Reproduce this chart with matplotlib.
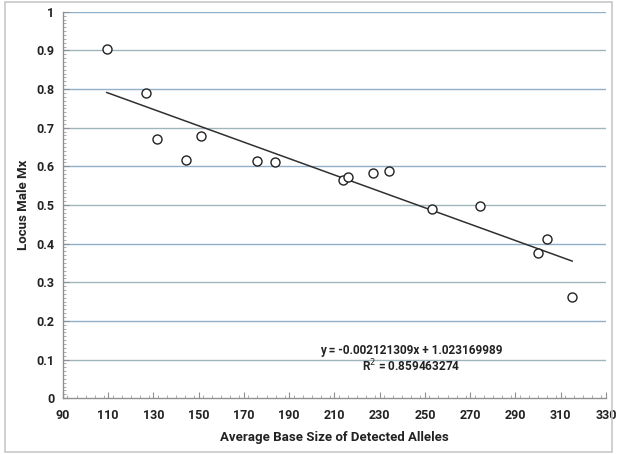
import matplotlib
matplotlib.use("Agg")
import matplotlib.pyplot as plt
from matplotlib.ticker import MultipleLocator
from matplotlib.patches import Rectangle
import numpy as np

base_size = [109.4, 126.8, 131.7, 144.4, 151.1, 176.0, 183.6, 213.6, 216.1,
             227.0, 234.1, 253.1, 274.2, 299.8, 303.9, 315.1]
male_mx = [0.904, 0.790, 0.672, 0.617, 0.678, 0.614, 0.611, 0.564, 0.573,
           0.583, 0.589, 0.490, 0.498, 0.375, 0.412, 0.263]
slope = -0.002121309
intercept = 1.023169989
r_squared = 0.859463274
x_ticks = list(range(90, 331, 20))
y_ticks = [0, 0.1, 0.2, 0.3, 0.4, 0.5, 0.6, 0.7, 0.8, 0.9, 1]
y_tick_labels = ["0", "0.1", "0.2", "0.3", "0.4", "0.5", "0.6", "0.7", "0.8", "0.9", "1"]

plt.rcParams['font.family'] = ['Roboto', 'DejaVu Sans']

fig = plt.figure(figsize=(6.17, 4.54), dpi=100)
ax = fig.add_axes([0.102, 0.123, 0.880, 0.851])

fig.patches.append(Rectangle((0.008, 0.004), 0.984, 0.992, transform=fig.transFigure,
                             fill=False, edgecolor='#c8c8c8', linewidth=1.2))

grid_colors = ['#a0b4bc', '#8fb0c8']
for i, yv in enumerate(y_ticks[1:]):
    ax.axhline(yv, color=grid_colors[i % 2], linewidth=1.0, zorder=0)

xfit = np.array([min(base_size), max(base_size)])
ax.plot(xfit, slope * xfit + intercept, color='#303030', linewidth=1.1, zorder=2)

ax.plot(base_size, male_mx, linestyle='none', marker='o', markersize=6.5,
        markerfacecolor='white', markeredgecolor='#222222', markeredgewidth=1.0, zorder=3)

ax.set_xlim(90, 330)
ax.set_ylim(0, 1)
ax.set_xticks(x_ticks)
ax.set_yticks(y_ticks)
ax.set_yticklabels(y_tick_labels)
ax.xaxis.set_minor_locator(MultipleLocator(4))
ax.yaxis.set_minor_locator(MultipleLocator(0.01))

for s in ['top', 'right']:
    ax.spines[s].set_visible(False)
for s in ['left', 'bottom']:
    ax.spines[s].set_color('#909090')
    ax.spines[s].set_linewidth(1.0)

ax.tick_params(axis='both', which='major', length=4, color='#909090', direction='in',
               labelsize=9, labelcolor='#222222')
ax.tick_params(axis='both', which='minor', length=2, color='#a0a0a0', direction='in')
ax.tick_params(axis='x', which='major', pad=8)
ax.tick_params(axis='y', which='major', pad=6)
for lbl in ax.get_xticklabels() + ax.get_yticklabels():
    lbl.set_fontweight('bold')

ax.set_xlabel('Average Base Size of Detected Alleles', fontsize=9.5, fontweight='bold',
              color='#222222', labelpad=6)
ax.set_ylabel('Locus Male Mx', fontsize=9.5, fontweight='bold', color='#222222', labelpad=5)

ax.text(243.8, 0.124, f'y = {slope:.9f}x + {intercept:.9f}', ha='center', va='center',
        fontsize=8.5, fontweight='bold', color='#222222')
ax.text(243.8, 0.083, f'R$^2$ = {r_squared:.9f}', ha='center', va='center',
        fontsize=8.5, fontweight='bold', color='#222222')

fig.savefig('out.png', dpi=100)
